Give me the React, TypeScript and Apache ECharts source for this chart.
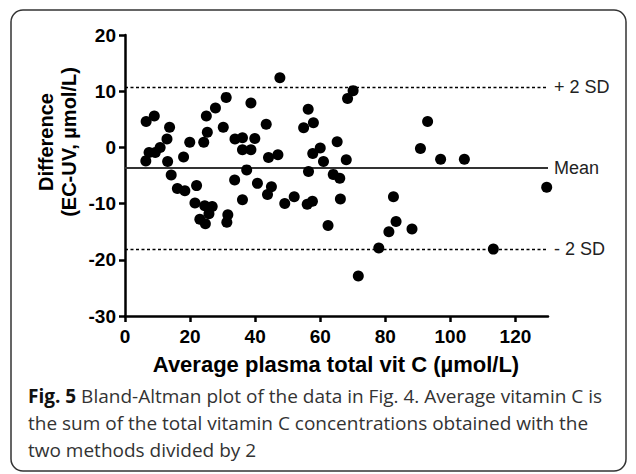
import React, { useEffect, useRef } from "react";
import * as echarts from "echarts";

// Bland-Altman points: [average plasma total vit C, difference EC-UV]
const points: [number, number][] = [
  [6.5, 4.6], [9, 5.6], [13.7, 3.6], [12.9, 1.5], [7.4, -0.9], [6.4, -2.4],
  [9.3, -0.9], [10.8, 0], [13.1, -2.5], [14.2, -4.9], [16.1, -7.3], [18.4, -7.7],
  [22, -6.8], [18, -1.7], [19.9, 0.9], [24.2, 0.9], [25.3, 2.7], [25, 5.6],
  [27.8, 7.0], [31.1, 8.9], [30.2, 3.6], [33.8, 1.5], [36.1, 1.7], [39.9, 1.6],
  [38.7, 7.9], [36.1, -0.4], [38.7, -0.4], [43.4, 4.1], [44.1, -1.8], [37.4, -4.0],
  [33.7, -5.8], [40.7, -6.4], [43.8, -8.4], [45, -7.0], [36.1, -9.3], [21.5, -9.9],
  [24.5, -10.4], [26.8, -10.5], [23, -12.8], [24.7, -13.6], [25.8, -11.8], [31.6, -12],
  [31.3, -13.3], [47.6, 12.4], [70.1, 10.1], [68.4, 8.7], [56.3, 6.8], [57.9, 4.4],
  [54.9, 3.5], [47, -1.3], [57.7, -1.1], [60, -0.1], [61, -2.5], [65.2, 1.0],
  [68, -2.2], [56.4, -4.3], [64, -4.8], [66, -5.5], [49.1, -10], [52, -8.8],
  [56, -10.1], [57.6, -9.6], [66.2, -9.2], [62.4, -13.9], [82.5, -8.8], [83.3, -13.2],
  [81.1, -15.0], [88.2, -14.5], [78, -17.9], [71.7, -22.9], [90.8, -0.2], [93, 4.6],
  [97, -2.1], [104.3, -2.1], [129.6, -7.1], [113.2, -18.1],
];

const meanDiff = -3.7;
const upperLoA = 10.7;
const lowerLoA = -18.1;
const refLabels = ["+ 2 SD", "Mean", "- 2 SD"];

const xTicks = [0, 20, 40, 60, 80, 100, 120];
const xMin = 0;
const xMax = 130;
const yMin = -30;
const yMax = 20;
const yInterval = 10;

const xTitle = "Average plasma total vit C (µmol/L)";
const yTitle = "Difference\n(EC-UV, µmol/L)";
const captionLines = [
  "Bland-Altman plot of the data in Fig. 4. Average vitamin C is",
  "the sum of the total vitamin C concentrations obtained with the",
  "two methods divided by 2",
];
const captionLead = "Fig. 5";

const AX_FONT = "'Liberation Sans', Arial, Helvetica, sans-serif";
const CAP_FONT = "'Open Sans', 'Noto Sans', sans-serif";

export default function App() {
  const ref = useRef<HTMLDivElement>(null);

  useEffect(() => {
    if (!ref.current) return;
    const chart = echarts.init(ref.current, undefined, { renderer: "svg" });
    const refLabelStyle = {
      show: true,
      position: "end" as const,
      distance: 6,
      color: "#222",
      fontSize: 18,
      fontFamily: AX_FONT,
    };
    const capStyle = {
      fill: "#333",
      fontSize: 19,
      fontFamily: CAP_FONT,
      verticalAlign: "middle" as const,
    };
    chart.setOption({
      animation: false,
      backgroundColor: "#fff",
      grid: { left: 125, right: 88, top: 35, bottom: 158, containLabel: false },
      xAxis: {
        type: "value",
        min: xMin,
        max: xMax,
        interval: 20,
        axisLine: { show: true, onZero: false, lineStyle: { color: "#000", width: 2.5 } },
        axisTick: { show: true, length: 6, customValues: xTicks, lineStyle: { color: "#000", width: 2.5 } },
        axisLabel: {
          customValues: xTicks,
          color: "#000",
          fontSize: 19,
          fontWeight: "bold",
          fontFamily: AX_FONT,
          margin: 11,
        },
        splitLine: { show: false },
      },
      yAxis: {
        type: "value",
        min: yMin,
        max: yMax,
        interval: yInterval,
        axisLine: { show: true, onZero: false, lineStyle: { color: "#000", width: 2.5 } },
        axisTick: { show: true, length: 6, lineStyle: { color: "#000", width: 2.5 } },
        axisLabel: {
          color: "#000",
          fontSize: 19,
          fontWeight: "bold",
          fontFamily: AX_FONT,
          margin: 9,
        },
        splitLine: { show: false },
      },
      series: [
        {
          type: "scatter",
          data: points,
          symbol: "circle",
          symbolSize: 11,
          itemStyle: { color: "#000", opacity: 1 },
          z: 5,
          markLine: {
            silent: true,
            symbol: "none",
            animation: false,
            data: [
              {
                yAxis: upperLoA,
                lineStyle: { color: "#000", width: 1.3, type: [3, 2.5] },
                label: { ...refLabelStyle, formatter: refLabels[0] },
              },
              {
                yAxis: meanDiff,
                lineStyle: { color: "#333", width: 2.2, type: "solid" },
                label: { ...refLabelStyle, formatter: refLabels[1] },
              },
              {
                yAxis: lowerLoA,
                lineStyle: { color: "#000", width: 1.3, type: [3, 2.5] },
                label: { ...refLabelStyle, formatter: refLabels[2] },
              },
            ],
          },
        },
      ],
      graphic: [
        {
          type: "rect",
          shape: { x: 11, y: 10, width: 615, height: 461, r: 12 },
          style: { fill: "none", stroke: "#333", lineWidth: 1.5 },
          silent: true,
        },
        {
          type: "text",
          x: 336,
          y: 364,
          style: {
            text: xTitle,
            fill: "#000",
            fontSize: 22,
            fontWeight: "bold",
            fontFamily: AX_FONT,
            align: "center",
            verticalAlign: "middle",
          },
        },
        {
          type: "text",
          x: 57,
          y: 142,
          rotation: Math.PI / 2,
          style: {
            text: yTitle,
            fill: "#000",
            fontSize: 20,
            fontWeight: "bold",
            fontFamily: AX_FONT,
            align: "center",
            verticalAlign: "middle",
            lineHeight: 23,
          },
        },
        {
          type: "text",
          x: 28,
          y: 396,
          style: {
            ...capStyle,
            text: "{b|" + captionLead + "} " + captionLines[0],
            rich: {
              b: { fontWeight: "bold", fontSize: 19, fontFamily: CAP_FONT, fill: "#111" },
            },
          },
        },
        {
          type: "text",
          x: 28,
          y: 423,
          style: { ...capStyle, text: captionLines[1] },
        },
        {
          type: "text",
          x: 28,
          y: 450,
          style: { ...capStyle, text: captionLines[2] },
        },
      ],
    });
    return () => chart.dispose();
  }, []);

  return (
    <div
      ref={ref}
      style={{ position: "absolute", left: 0, top: 0, width: 636, height: 474 }}
    />
  );
}
